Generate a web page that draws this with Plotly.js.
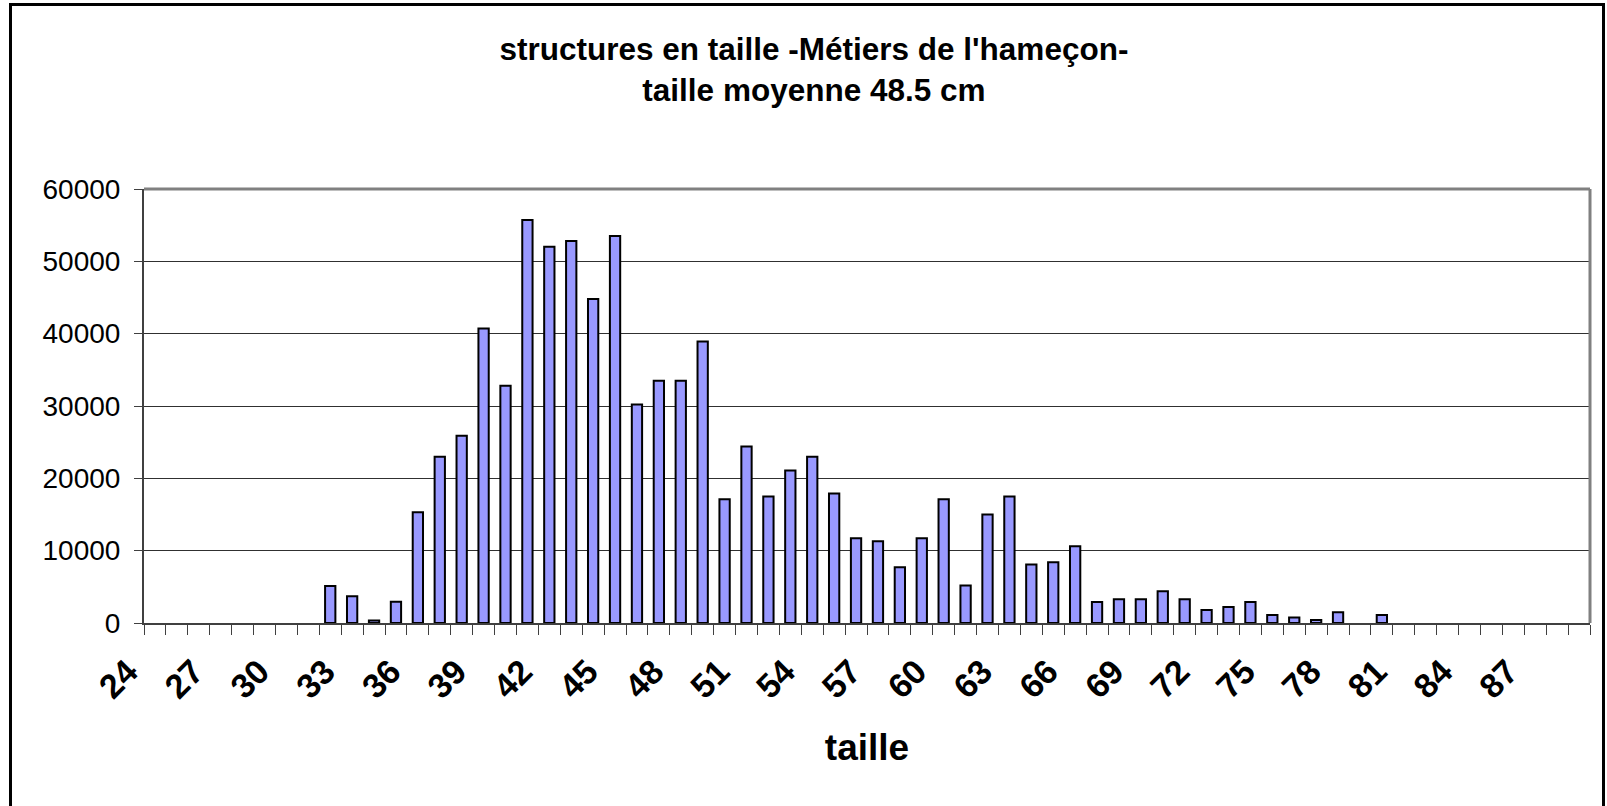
<!DOCTYPE html>
<html>
<head>
<meta charset="utf-8">
<script src="https://cdn.plot.ly/plotly-3.0.1.min.js"></script>
<style>
  html, body { margin: 0; padding: 0; background: #ffffff; }
  #wrap { position: relative; width: 1607px; height: 806px; overflow: hidden; }
  #chart { position: absolute; left: 0; top: 0; width: 1607px; height: 806px; }
  #frame { position: absolute; left: 9px; top: 3px; width: 1596px; height: 900px;
           border: 3px solid #000; pointer-events: none; box-sizing: border-box; }
</style>
</head>
<body>
<div id="wrap">
  <div id="chart"></div>
  <div id="frame"></div>
</div>
<script>
// size classes (cm)
const taille = [24, 25, 26, 27, 28, 29, 30, 31, 32, 33, 34, 35, 36, 37, 38, 39, 40, 41,
                42, 43, 44, 45, 46, 47, 48, 49, 50, 51, 52, 53, 54, 55, 56, 57, 58, 59,
                60, 61, 62, 63, 64, 65, 66, 67, 68, 69, 70, 71, 72, 73, 74, 75, 76, 77,
                78, 79, 80, 81, 82, 83, 84, 85, 86, 87, 88, 89];
// counts per class
const effectif = [0, 0, 0, 0, 0, 0, 0, 0, 5100, 3700, 350, 2950, 15300, 23000, 25900, 40700, 32800, 55700,
                  52000, 52800, 44800, 53500, 30200, 33500, 33500, 38900, 17100, 24400, 17500, 21100, 23000, 17900,
                  11700, 11300, 7700, 11700, 17100, 5200, 15000, 17500, 8100, 8400, 10600, 2900, 3300, 3300,
                  4400, 3300, 1800, 2200, 2900, 1100, 750, 400, 1500, 0, 1100, 0, 0, 0,
                  0, 0, 0, 0, 0, 0];
// labelled ticks
const tickLabels = [24, 27, 30, 33, 36, 39, 42, 45, 48, 51, 54, 57, 60, 63, 66, 69, 72, 75, 78, 81, 84, 87];
const yTicks = [0, 10000, 20000, 30000, 40000, 50000, 60000];

const titleText = "structures en taille -Métiers de l'hameçon-<br>taille moyenne 48.5 cm";
const xTitle = "taille";

const FONT = "Liberation Sans, Arial, Helvetica, sans-serif";

const trace = {
  type: 'bar',
  x: taille,
  y: effectif,
  width: 0.47,
  marker: {
    color: '#9999FF',
    line: { color: '#000000', width: effectif.map(v => (v > 0 ? 2 : 0)) }
  },
  hoverinfo: 'x+y'
};

const layout = {
  width: 1607,
  height: 806,
  margin: { l: 144, r: 17, t: 189, b: 183, pad: 0 },
  paper_bgcolor: '#ffffff',
  plot_bgcolor: '#ffffff',
  showlegend: false,
  bargap: 0,
  title: {
    text: titleText,
    font: { family: FONT, size: 31.5, color: '#000000', weight: 700 },
    x: 0.5065, xanchor: 'center',
    y: 0.925, yanchor: 'middle', yref: 'container'
  },
  xaxis: {
    type: 'linear',
    range: [23.5, 89.5],
    tickmode: 'array',
    tickvals: tickLabels,
    ticktext: tickLabels.map(String),
    tickangle: -45,
    ticks: '',
    ticklen: 0,
    ticklabelshift: -27,
    ticklabelstandoff: 13,
    tickfont: { family: FONT, size: 34, color: '#000000', weight: 700 },
    minor: { tickmode: 'linear', tick0: 23.5, dtick: 1, ticks: 'outside', ticklen: 10,
             tickcolor: '#404040', tickwidth: 1, showgrid: false },
    showline: true, linecolor: '#404040', linewidth: 2,
    showgrid: false, zeroline: false,
    automargin: false,
    title: { text: xTitle, font: { family: FONT, size: 37, color: '#000000', weight: 700 }, standoff: 30 }
  },
  yaxis: {
    range: [0, 60000],
    tickmode: 'array',
    tickvals: yTicks,
    ticktext: yTicks.map(String),
    ticks: 'outside', ticklen: 8, tickcolor: '#404040', tickwidth: 1,
    ticklabelstandoff: 8,
    tickfont: { family: FONT, size: 28, color: '#000000' },
    showline: true, linecolor: '#404040', linewidth: 2,
    showgrid: true, gridcolor: '#303030', gridwidth: 1,
    zeroline: false,
    automargin: false
  },
  shapes: [
    { type: 'line', xref: 'paper', yref: 'paper', x0: 0, x1: 1, y0: 1, y1: 1,
      line: { color: '#808080', width: 3 }, layer: 'above' },
    { type: 'line', xref: 'paper', yref: 'paper', x0: 1, x1: 1, y0: 0, y1: 1,
      line: { color: '#808080', width: 3 }, layer: 'above' }
  ]
};

Plotly.newPlot('chart', [trace], layout, { displayModeBar: false, staticPlot: true });
</script>
</body>
</html>
